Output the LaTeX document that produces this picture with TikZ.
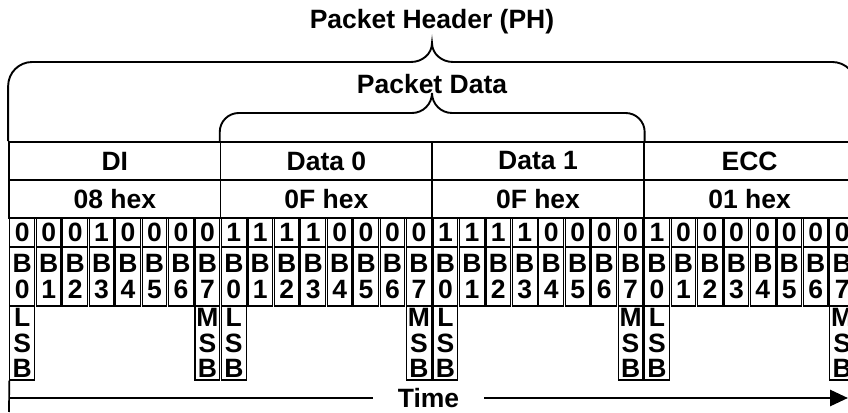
\documentclass[tikz,border=0pt]{standalone}
\usepackage{fontspec}
\setmainfont{Liberation Sans}
\usetikzlibrary{arrows.meta}

\begin{document}
\begin{tikzpicture}[
    x=1pt, y=1pt,
    font=\fontsize{26.5}{25.5}\selectfont\bfseries,
    field/.style={rectangle, draw, line width=1.7pt, minimum width=211.6pt, minimum height=38pt, inner sep=0pt},
    bitbox/.style={rectangle, draw, line width=1.2pt, minimum width=24.7pt, minimum height=29.5pt, inner sep=0pt},
    bitname/.style={bitbox, minimum height=59pt, align=center},
    sigbox/.style={bitbox, minimum height=74pt, align=center},
    brace/.style={line width=1.9pt},
    arr/.style={line width=2.8pt, -{Triangle[length=18pt, width=16pt]}},
]
\clip (0,0) rectangle (848,412);

\node (ph) at (432,390) {Packet Header (PH)};
\node (pd) at (432,328) {Packet Data};

\node[field] (di) at (114.8,251) {DI};
\node[field] (dzero) at (326.4,251) {Data 0};
\node[field] (done) at (538,251) {Data 1};
\node[field] (ecc) at (749.6,251) {ECC};
\node[field] (dihex) at (114.8,213) {08 hex};
\node[field] (dzerohex) at (326.4,213) {0F hex};
\node[field] (donehex) at (538,213) {0F hex};
\node[field] (ecchex) at (749.6,213) {01 hex};

% bits, LSB first
\foreach \v [count=\i from 0] in {0,0,0,1,0,0,0,0,1,1,1,1,0,0,0,0,1,1,1,1,0,0,0,0,1,0,0,0,0,0,0,0} {
    \pgfmathtruncatemacro{\k}{mod(\i,8)}
    \node[bitbox] (bit\i) at ({9+(\i+0.5)*26.45},179.75) {\v};
    \node[bitname] (bn\i) at ({9+(\i+0.5)*26.45},135.5) {B\\\k};
}
\foreach \i/\t in {0/L, 7/M, 8/L, 15/M, 16/L, 23/M, 24/L, 31/M}
    \node[sigbox] (sig\i) at ({9+(\i+0.5)*26.45},69) {\t\\S\\B};

% braces
\coordinate (phtip) at (432,369);
\coordinate (pdtip) at (432,319);
\draw[brace, rounded corners=24pt] (di.north west) |- ([shift={(-21,-19)}]phtip);
\draw[brace] ([shift={(-21,-19)}]phtip) to[out=0,in=-90] (phtip) to[out=-90,in=180] ([shift={(21,-19)}]phtip);
\draw[brace, rounded corners=24pt] ([shift={(21,-19)}]phtip) -| (ecc.north east);
\draw[brace, rounded corners=19pt] (dzero.north west) |- ([shift={(-20,-20)}]pdtip);
\draw[brace] ([shift={(-20,-20)}]pdtip) to[out=0,in=-90] (pdtip) to[out=-90,in=180] ([shift={(20,-20)}]pdtip);
\draw[brace, rounded corners=19pt] ([shift={(20,-20)}]pdtip) -| (done.north east);

% time axis
\coordinate (t0) at (9,14);
\coordinate (tend) at (848,14);
\coordinate (base) at (9,0);
\draw[line width=1.7pt] (sig0.south west) -- (base);
\draw[arr] (t0) -- node[fill=white, inner xsep=25pt, inner ysep=2pt] (time) {Time} (tend);
\end{tikzpicture}
\end{document}
